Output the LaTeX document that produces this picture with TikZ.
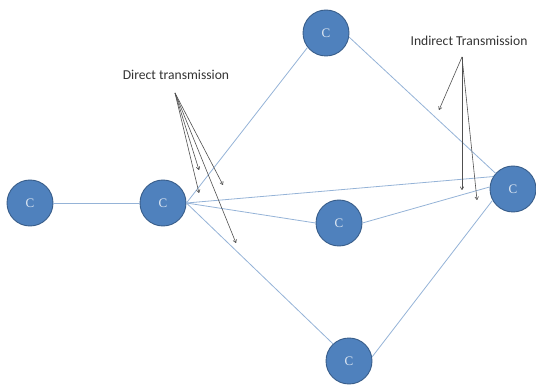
\documentclass[tikz,border=0pt]{standalone}
\usepackage{fontspec}
\setmainfont{Liberation Serif}
\newfontfamily\labfont{Carlito}
\usetikzlibrary{arrows.meta}
\definecolor{nodefill}{HTML}{4F81BD}
\definecolor{nodeline}{HTML}{385D8A}
\definecolor{linkcol}{HTML}{95B3D7}
\definecolor{arrcol}{HTML}{505050}
\definecolor{ctext}{HTML}{DCE6F2}
\begin{document}
\begin{tikzpicture}[x=1pt,y=-1pt,
  cnode/.style={circle,fill=nodefill,draw=nodeline,line width=0.9pt,minimum size=46pt,inner sep=0pt,font=\fontsize{13}{14}\selectfont,text=ctext},
  link/.style={draw=linkcol,line width=0.8pt},
  pointer/.style={draw=arrcol,line width=0.6pt,-{To[length=3.5pt,width=4pt]}},
  lab/.style={font=\labfont\fontsize{13.6}{15}\selectfont,text=black!80}]
\useasboundingbox (0,0) rectangle (536,385);
\node[cnode] (n1) at (30,203) {C};
\node[cnode] (n2) at (163,203) {C};
\node[cnode] (top) at (326,33) {C};
\node[cnode] (mid) at (339,223) {C};
\node[cnode] (bot) at (349,361) {C};
\node[cnode] (rgt) at (513,189) {C};
\draw[link] (n1.east) -- (n2.west);
\draw[link] (n2.east) -- (top.218);
\draw[link] (n2.east) -- (rgt.148);
\draw[link] (n2.east) -- (mid.west);
\draw[link] (n2.east) -- (bot.133);
\draw[link] (top.-10) -- (rgt.138);
\draw[link] (mid.east) -- (rgt.175);
\draw[link] (bot.10) -- (rgt.209);
\node[lab] (dlab) at (176,75) {Direct transmission};
\node[lab] (ilab) at (469,41) {Indirect Transmission};
\coordinate (dapex) at (175,93);
\coordinate (d1) at (199,170);
\coordinate (d2) at (199,193);
\coordinate (d3) at (223,185);
\coordinate (d4) at (236,243);
\coordinate (iapex) at (462,57);
\coordinate (i1) at (439,110);
\coordinate (i2) at (462,190);
\coordinate (i3) at (477,200);
\foreach \t in {d1,d2,d3,d4} \draw[pointer] (dapex) -- (\t);
\foreach \t in {i1,i2,i3} \draw[pointer] (iapex) -- (\t);
\end{tikzpicture}
\end{document}
